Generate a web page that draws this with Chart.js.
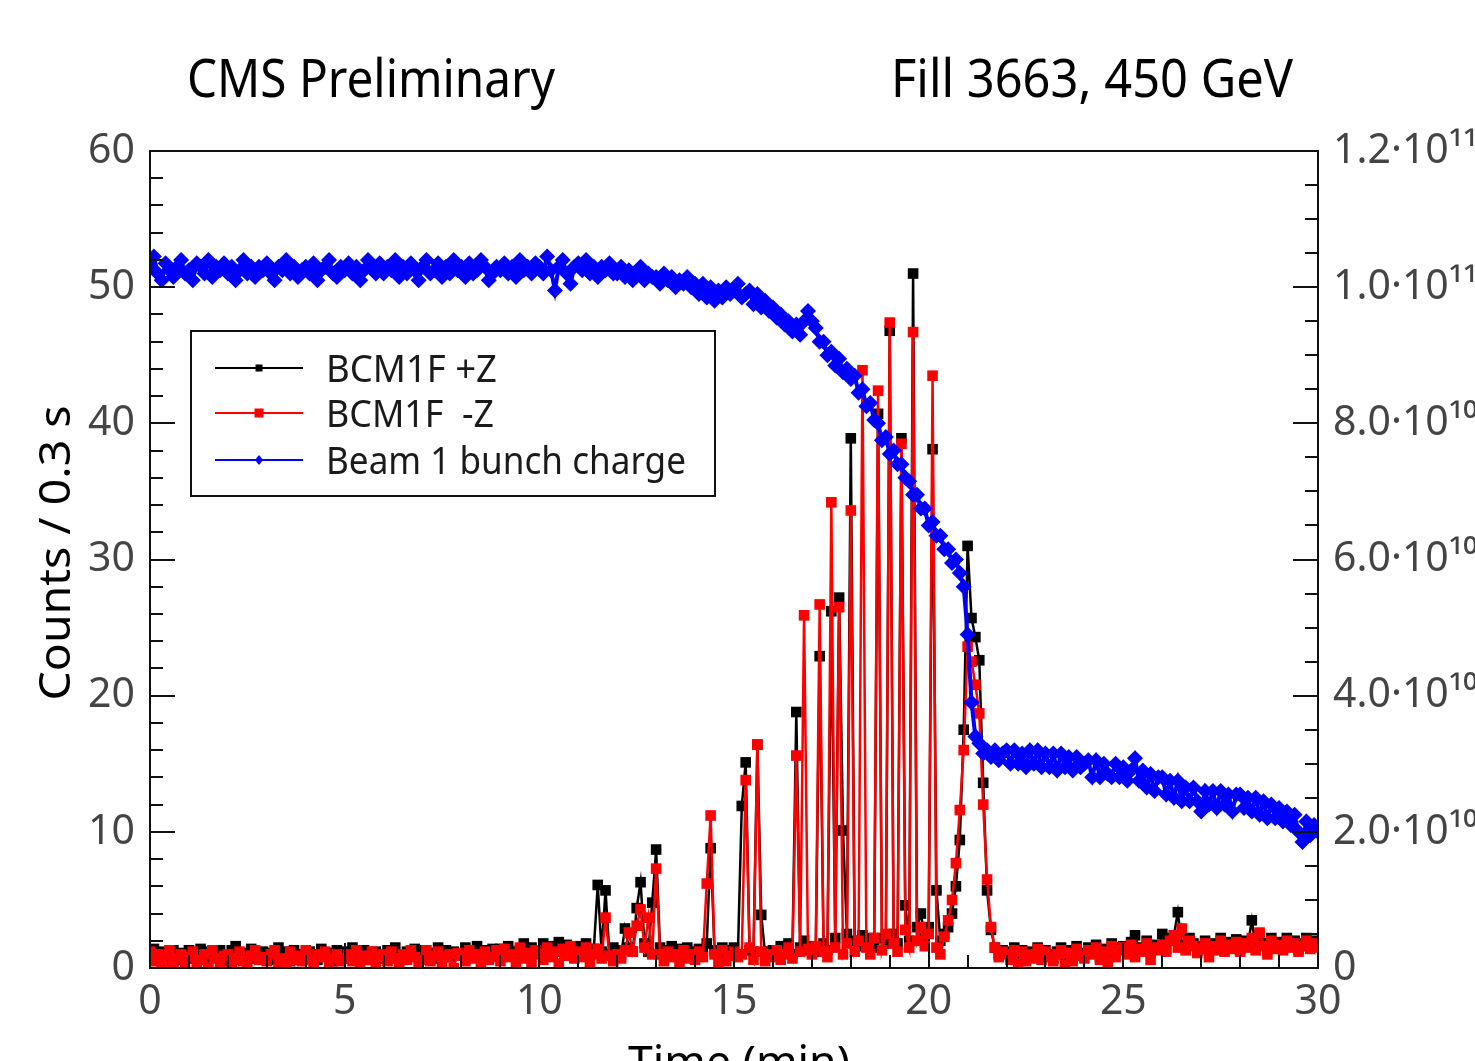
<!DOCTYPE html>
<html><head><meta charset="utf-8">
<script src="https://cdn.jsdelivr.net/npm/chart.js@4.4.1/dist/chart.umd.min.js"></script>
<style>html,body{margin:0;padding:0;background:#fff;overflow:hidden}#wrap{width:1475px;height:1061px}</style>
</head><body><div id="wrap"><canvas id="c" width="1475" height="1061"></canvas></div>
<script>
// ---------------- data ----------------
const TIME_STEP = 0.1; // minutes between samples, samples at 0.0 ... 30.0
// BCM1F +Z counts / 0.3 s (one row per minute)
const bcmPlusZ = [
1.0,1.4,0.7,1.2,0.5,1.0,1.3,0.6,1.1,0.8,
1.3,0.7,1.0,1.4,0.6,1.2,0.8,1.0,1.3,0.5,
0.9,1.3,1.6,0.6,1.1,0.8,1.4,0.7,1.0,1.2,
1.1,0.6,1.0,1.5,0.8,1.2,0.5,1.3,0.7,1.0,
0.8,1.2,1.0,0.6,1.4,0.9,1.1,0.5,1.3,1.0,
1.2,0.7,1.5,1.0,0.8,1.3,1.0,0.6,1.2,0.9,
0.7,1.3,1.0,1.5,0.9,0.6,1.2,1.0,1.4,0.8,
1.3,0.9,1.1,0.7,1.5,1.0,1.3,0.8,1.2,1.0,
1.0,1.5,0.8,1.2,1.6,1.0,1.3,0.9,1.4,1.1,
1.4,1.0,1.6,1.2,0.9,1.3,1.8,1.0,1.5,1.2,
1.3,1.8,1.0,1.6,1.2,1.9,1.3,1.7,1.1,1.5,
1.6,1.2,1.8,1.0,1.4,6.1,1.2,5.7,1.0,1.5,
1.3,1.0,2.9,1.5,1.2,4.4,6.3,1.8,1.2,4.8,
8.7,1.5,1.0,1.3,1.6,1.1,1.4,1.0,1.5,1.2,
1.0,1.4,1.2,1.8,8.8,1.3,1.0,1.5,1.1,1.3,
1.5,1.0,11.9,15.1,1.3,1.2,16.4,3.9,1.0,1.2,
1.3,1.0,1.6,1.2,1.8,1.0,18.8,1.5,2.0,1.3,
1.6,1.2,22.9,1.8,1.3,26.2,2.2,27.2,10.1,2.5,
38.9,2.0,1.6,2.4,1.8,2.2,1.5,40.7,2.2,1.8,
46.8,2.5,1.8,38.9,4.6,2.0,51.0,3.0,4.0,2.2,
3.0,38.1,5.7,2.0,2.5,3.0,4.0,6.0,9.4,17.5,
31.0,25.7,24.3,22.6,13.6,5.7,2.8,1.5,1.0,1.3,
1.2,0.8,1.5,1.0,1.3,0.7,1.2,1.0,1.5,0.8,
1.3,1.0,0.7,1.2,1.5,0.9,1.3,0.7,1.6,1.1,
1.0,1.5,1.2,1.7,0.8,1.4,1.1,1.8,1.0,1.5,
1.6,1.3,1.9,2.4,1.5,1.4,2.0,1.2,1.7,1.5,
2.5,1.4,2.2,2.4,4.1,1.7,1.5,2.2,1.8,1.3,
1.6,2.0,1.3,1.8,1.5,2.2,1.4,1.9,1.6,2.1,
1.4,2.0,1.7,3.5,1.5,2.4,1.8,1.4,2.2,1.6,
1.9,1.5,2.2,1.7,2.0,1.4,1.8,2.2,1.6,2.0,
1.7];
// BCM1F -Z counts / 0.3 s
const bcmMinusZ = [
1.2,0.5,1.0,0.3,0.8,1.3,0.2,0.7,1.0,0.4,
0.8,1.2,0.3,0.6,1.0,0.0,1.3,0.7,0.4,0.9,
1.0,0.4,0.7,1.2,0.5,0.2,0.9,1.3,0.6,0.8,
0.5,1.0,1.3,0.4,0.7,0.0,1.2,0.6,0.9,0.5,
1.3,0.6,0.3,1.0,0.8,1.2,0.2,0.7,1.0,0.5,
0.7,1.0,0.5,1.3,0.3,0.9,0.6,1.2,0.0,0.8,
1.0,0.5,1.2,0.7,0.2,1.0,0.6,1.3,0.8,0.4,
0.6,1.3,0.5,0.9,1.2,0.3,0.8,1.0,0.0,1.1,
0.9,0.5,1.3,0.7,1.0,0.2,1.2,0.6,0.8,1.3,
0.5,1.4,0.8,1.0,0.3,1.5,0.7,1.1,0.4,1.3,
1.0,0.6,1.5,0.8,1.2,0.3,1.4,0.9,1.6,0.7,
1.2,0.8,1.5,0.4,1.0,1.4,0.7,3.7,0.9,0.5,
1.0,0.7,1.3,2.6,1.2,3.1,4.3,1.5,3.7,1.0,
7.3,1.0,0.5,1.2,0.8,1.0,0.3,1.3,0.7,1.0,
0.6,1.2,0.8,6.2,11.2,1.0,0.4,1.3,0.5,0.9,
1.2,0.8,1.0,13.8,1.5,0.6,16.4,1.2,0.5,1.0,
0.8,1.3,0.6,1.0,1.5,0.7,15.6,1.2,25.9,1.4,
1.0,1.6,26.7,1.2,0.8,34.2,1.5,26.5,1.0,1.8,
33.6,1.2,2.0,43.9,1.5,1.0,2.2,42.4,1.3,2.5,
47.4,1.8,1.2,38.5,2.8,1.5,46.7,2.0,3.0,1.6,
2.5,43.5,1.5,1.0,2.3,3.5,5.0,7.7,11.6,16.0,
23.6,22.5,20.8,18.7,12.0,6.5,3.0,1.5,0.8,1.2,
1.0,0.6,1.3,0.3,1.2,0.5,1.0,0.7,1.4,0.6,
1.2,0.8,0.5,1.0,1.3,0.2,1.1,0.5,1.4,0.9,
0.7,1.3,1.0,1.5,0.6,1.2,0.4,1.6,0.8,1.3,
1.5,1.0,1.7,0.8,1.4,1.2,1.8,0.6,1.5,1.3,
1.7,1.2,2.0,2.4,1.5,2.9,1.3,2.0,1.6,1.1,
1.4,1.8,0.8,1.6,1.3,2.0,1.2,1.7,1.4,1.9,
1.2,1.8,1.5,2.2,1.3,2.6,1.6,1.0,2.0,1.4,
1.7,1.3,2.0,1.5,1.8,1.2,1.6,2.0,1.4,1.8,
1.5];
// Beam 1 bunch charge, in units of 1e10 protons (right axis)
const beamCharge = [
10.3,10.45,10.2,10.1,10.35,10.25,10.15,10.3,10.4,10.2,
10.25,10.1,10.35,10.3,10.2,10.4,10.15,10.3,10.25,10.35,
10.2,10.3,10.1,10.25,10.4,10.2,10.3,10.15,10.3,10.25,
10.35,10.2,10.1,10.3,10.25,10.4,10.2,10.3,10.15,10.25,
10.3,10.2,10.35,10.1,10.25,10.3,10.4,10.2,10.15,10.3,
10.25,10.35,10.2,10.3,10.1,10.25,10.4,10.3,10.2,10.35,
10.2,10.3,10.25,10.4,10.15,10.3,10.2,10.35,10.25,10.1,
10.3,10.4,10.2,10.25,10.35,10.15,10.3,10.2,10.4,10.25,
10.3,10.15,10.35,10.2,10.25,10.4,10.3,10.1,10.2,10.3,
10.25,10.35,10.2,10.3,10.15,10.4,10.25,10.3,10.2,10.35,
10.3,10.2,10.45,10.25,9.95,10.3,10.4,10.2,10.05,10.3,
10.35,10.25,10.4,10.2,10.3,10.15,10.3,10.25,10.35,10.2,
10.2,10.3,10.15,10.25,10.1,10.2,10.3,10.1,10.2,10.15,
10.15,10.05,10.2,10.1,10.15,10.0,10.1,10.05,10.15,10.0,
10.05,9.9,10.05,9.85,10.0,9.8,9.95,9.85,10.0,9.9,
9.95,10.05,9.85,9.9,9.95,9.75,9.9,9.7,9.8,9.65,
9.7,9.55,9.6,9.45,9.5,9.35,9.45,9.3,9.5,9.65,
9.5,9.4,9.2,9.2,9.0,9.05,8.85,8.95,8.75,8.8,
8.65,8.7,8.45,8.5,8.25,8.3,8.05,8.0,7.75,7.8,
7.55,7.6,7.4,7.4,7.2,7.15,6.95,6.95,6.75,6.75,
6.5,6.55,6.35,6.35,6.15,6.15,5.95,6.0,5.8,5.6,
4.9,3.9,3.4,3.3,3.15,3.2,3.1,3.2,3.05,3.15,
3.2,3.0,3.2,3.0,3.15,2.95,3.2,3.0,3.2,2.95,
3.15,2.95,3.15,2.9,3.15,2.95,3.1,2.9,3.1,2.95,
3.0,3.05,2.8,3.05,2.8,3.0,2.85,2.8,3.0,2.8,
2.95,2.75,2.9,3.08,2.75,2.9,2.65,2.85,2.6,2.8,
2.8,2.55,2.75,2.5,2.75,2.45,2.65,2.45,2.65,2.45,
2.3,2.6,2.4,2.6,2.35,2.6,2.4,2.55,2.3,2.55,
2.55,2.35,2.5,2.3,2.5,2.25,2.45,2.2,2.4,2.2,
2.35,2.15,2.3,2.1,2.25,2.0,1.85,2.15,1.95,2.1,
2.0];
const seriesNames = ['BCM1F +Z', 'BCM1F  -Z', 'Beam 1 bunch charge'];
const seriesColors = ['#000000', '#ff0000', '#0000ff'];
const rightTickLabels = ['0', '2.0\u00b710\u00b9\u2070', '4.0\u00b710\u00b9\u2070', '6.0\u00b710\u00b9\u2070', '8.0\u00b710\u00b9\u2070', '1.0\u00b710\u00b9\u00b9', '1.2\u00b710\u00b9\u00b9'];
const titleLeft = 'CMS Preliminary';
const titleRight = 'Fill 3663, 450 GeV';
const xTitle = 'Time (min)';
const yTitle = 'Counts / 0.3 s';

// ---------------- build ----------------
const toPoints = arr => arr.map((v, i) => ({ x: +(i * TIME_STEP).toFixed(2), y: v }));
const FONT = "'Noto Sans', 'DejaVu Sans', sans-serif";
Chart.defaults.font.family = FONT;

function fitText(ctx, text, x, y, size, color, targetW, align, weight) {
  ctx.save();
  ctx.font = (weight || '') + ' ' + size + 'px ' + FONT;
  ctx.fillStyle = color;
  ctx.textBaseline = 'alphabetic';
  const w = ctx.measureText(text).width;
  const s = targetW ? targetW / w : 1;
  ctx.translate(x, y);
  ctx.scale(s, 1);
  ctx.textAlign = align || 'left';
  ctx.fillText(text, 0, 0);
  ctx.restore();
}

const frameTicks = {
  id: 'frameTicks',
  afterDatasetsDraw(chart) {
    const { ctx, chartArea: a, scales } = chart;
    ctx.save();
    ctx.strokeStyle = '#111';
    ctx.lineWidth = 2;
    ctx.beginPath();
    for (let m = 0; m <= 30; m++) {
      const px = Math.round(scales.x.getPixelForValue(m));
      const len = m % 5 === 0 ? 25 : 13;
      ctx.moveTo(px, a.bottom); ctx.lineTo(px, a.bottom - len);
    }
    for (let c = 0; c <= 60; c += 2) {
      const py = Math.round(scales.y.getPixelForValue(c));
      const len = c % 10 === 0 ? 25 : 13;
      ctx.moveTo(a.left, py); ctx.lineTo(a.left + len, py);
    }
    for (let k = 0; k <= 24; k++) {
      const py = Math.round(scales.y2.getPixelForValue(k * 0.5));
      const len = k % 4 === 0 ? 25 : 13;
      ctx.moveTo(a.right, py); ctx.lineTo(a.right - len, py);
    }
    ctx.stroke();
    ctx.strokeRect(a.left, a.top, a.right - a.left, a.bottom - a.top);
    ctx.restore();
  },
  afterDraw(chart) {
    const { ctx } = chart;
    fitText(ctx, titleLeft, 187, 97, 52, '#000', 368);
    fitText(ctx, titleRight, 891, 97, 52, '#000', 402);
    fitText(ctx, xTitle, 739, 1077, 44, '#000', 222, 'center');
    ctx.save();
    ctx.translate(70, 553);
    ctx.rotate(-Math.PI / 2);
    fitText(ctx, yTitle, 0, 0, 44, '#000', 295, 'center');
    ctx.restore();
    // legend box
    ctx.save();
    ctx.fillStyle = '#fff';
    ctx.fillRect(191, 331, 524, 165);
    ctx.strokeStyle = '#111';
    ctx.lineWidth = 2;
    ctx.strokeRect(191, 331, 524, 165);
    const rows = [368, 413, 460];
    rows.forEach((ry, i) => {
      ctx.strokeStyle = seriesColors[i];
      ctx.fillStyle = seriesColors[i];
      ctx.lineWidth = 2;
      ctx.beginPath(); ctx.moveTo(215, ry); ctx.lineTo(303, ry); ctx.stroke();
      if (i < 2) {
        const s = i === 0 ? 7 : 9;
        ctx.fillRect(259 - s / 2, ry - s / 2, s, s);
      } else {
        ctx.beginPath();
        ctx.moveTo(259, ry - 5); ctx.lineTo(263, ry); ctx.lineTo(259, ry + 5); ctx.lineTo(255, ry);
        ctx.closePath(); ctx.fill();
      }
      fitText(ctx, seriesNames[i], 326, ry + 14, 38, '#1a1a1a', i === 2 ? 360 : (i === 0 ? 171 : 168));
    });
    ctx.restore();
  }
};

const common = { showLine: true, tension: 0, borderWidth: 2.5, pointBorderWidth: 0, pointHoverRadius: 0 };

new Chart(document.getElementById('c'), {
  type: 'scatter',
  data: {
    datasets: [
      Object.assign({}, common, { label: seriesNames[2], data: toPoints(beamCharge), yAxisID: 'y2', order: 0,
        borderColor: seriesColors[2], backgroundColor: seriesColors[2], pointStyle: 'rectRot', pointRadius: 8, borderWidth: 4 }),
      Object.assign({}, common, { label: seriesNames[1], data: toPoints(bcmMinusZ), yAxisID: 'y', order: 1,
        borderColor: seriesColors[1], backgroundColor: seriesColors[1], pointStyle: 'rect', pointRadius: 7.5 }),
      Object.assign({}, common, { label: seriesNames[0], data: toPoints(bcmPlusZ), yAxisID: 'y', order: 2,
        borderColor: seriesColors[0], backgroundColor: seriesColors[0], pointStyle: 'rect', pointRadius: 7.5 })
    ]
  },
  options: {
    responsive: false,
    animation: false,
    devicePixelRatio: 1,
    layout: { padding: { top: 151, left: 0, right: 0, bottom: 0 } },
    plugins: { legend: { display: false }, tooltip: { enabled: false } },
    events: [],
    scales: {
      x: {
        type: 'linear', min: 0, max: 30,
        grid: { display: false, drawTicks: false }, border: { display: false },
        ticks: { stepSize: 5, autoSkip: false, maxRotation: 0, padding: 10, color: '#444', font: { size: 41 } },
        afterFit(s) { s.height = 93; }
      },
      y: {
        position: 'left', min: 0, max: 60,
        grid: { display: false, drawTicks: false }, border: { display: false },
        ticks: { stepSize: 10, padding: 15, color: '#444', font: { size: 41 } },
        afterFit(s) { s.width = 150; }
      },
      y2: {
        position: 'right', min: 0, max: 12,
        grid: { display: false, drawTicks: false }, border: { display: false },
        ticks: { stepSize: 2, padding: 15, color: '#444', font: { size: 41 },
          callback: v => rightTickLabels[Math.round(v / 2)] },
        afterFit(s) { s.width = 157; }
      }
    }
  },
  plugins: [frameTicks]
});
</script>
</body></html>
